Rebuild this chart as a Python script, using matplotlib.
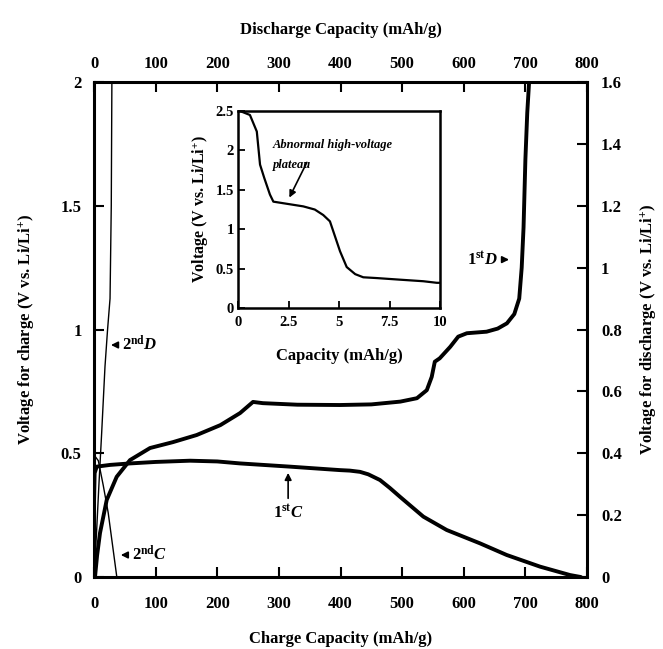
import numpy as np
import matplotlib
matplotlib.use("Agg")
import matplotlib.pyplot as plt

plt.rcParams['font.family'] = ['Liberation Serif', 'DejaVu Serif']
plt.rcParams['font.weight'] = 'bold'
plt.rcParams['axes.labelweight'] = 'bold'
plt.rcParams['mathtext.fontset'] = 'custom'
plt.rcParams['mathtext.rm'] = 'Liberation Serif:bold'
plt.rcParams['mathtext.bf'] = 'Liberation Serif:bold'
plt.rcParams['mathtext.it'] = 'Liberation Serif:italic:bold'

# 1st discharge (top / right axes)
d1_cap = [1.6, 5, 9.7, 20.6, 36.8, 58.4, 90.9, 128, 166.6, 205, 237, 258, 274, 330, 399,
          450, 497, 524, 540, 548, 553, 561, 578, 591, 605, 637, 655, 670, 682, 690,
          694, 697, 700, 703, 706]
d1_v = [0, 0.07, 0.142, 0.249, 0.324, 0.378, 0.417, 0.436, 0.459, 0.491, 0.530, 0.566, 0.562,
        0.557, 0.556, 0.558, 0.567, 0.578, 0.604, 0.647, 0.696, 0.707, 0.744, 0.777, 0.788,
        0.793, 0.803, 0.82, 0.85, 0.90, 1.0, 1.13, 1.35, 1.50, 1.6]

# 2nd discharge
d2_cap = [0, 4, 8, 12.4, 17.8, 22, 26, 28, 29]
d2_v = [0, 0.14, 0.3, 0.465, 0.68, 0.8, 0.9, 1.2, 1.6]

# 1st charge (bottom / left axes)
c1_cap = [0, 1, 4.4, 26, 58.4, 100, 155.8, 200, 237, 318, 399, 415, 431.6, 445, 464, 480,
          496.6, 515, 534.4, 572.3, 626.4, 669.7, 723.7, 772.4, 790]
c1_v = [0.30, 0.42, 0.446, 0.453, 0.459, 0.465, 0.470, 0.467, 0.459, 0.446, 0.432, 0.430,
        0.425, 0.415, 0.392, 0.360, 0.324, 0.285, 0.244, 0.190, 0.136, 0.089, 0.042, 0.008, 0.0]

# 2nd charge
c2_cap = [1, 7, 15, 23, 30, 37]
c2_v = [0.49, 0.47, 0.37, 0.26, 0.13, 0.0]

# inset: first few mAh/g of the 1st discharge
ins_cap = [0, 0.1, 0.59, 0.93, 1.09, 1.3, 1.58, 1.75, 2.24, 3.23, 3.8, 4.22, 4.55, 5.05,
           5.38, 5.8, 6.2, 6.87, 8.0, 9.17, 9.84, 10]
ins_v = [2.5, 2.5, 2.45, 2.24, 1.82, 1.65, 1.44, 1.35, 1.33, 1.29, 1.25, 1.18, 1.10, 0.72,
         0.52, 0.43, 0.39, 0.38, 0.36, 0.34, 0.32, 0.32]

cap_ticks = [0, 100, 200, 300, 400, 500, 600, 700, 800]
charge_ticks = [0, 0.5, 1, 1.5, 2]
charge_labels = ['0', '0.5', '1', '1.5', '2']
dis_ticks = [0, 0.2, 0.4, 0.6, 0.8, 1.0, 1.2, 1.4, 1.6]
dis_labels = ['0', '0.2', '0.4', '0.6', '0.8', '1', '1.2', '1.4', '1.6']
ins_xticks = [0, 2.5, 5, 7.5, 10]
ins_xlabels = ['0', '2.5', '5', '7.5', '10']
ins_yticks = [0, 0.5, 1, 1.5, 2, 2.5]
ins_ylabels = ['0', '0.5', '1', '1.5', '2', '2.5']

arrow = dict(arrowstyle='-|>', color='black', lw=1.2, mutation_scale=10)

fig = plt.figure(figsize=(6.63, 6.49), dpi=100)
pos = [0.1418, 0.1109, 0.7436, 0.7627]

# charge axes
ax = fig.add_axes(pos)
ax.plot(c1_cap, c1_v, color='black', lw=2.8, solid_capstyle='round', solid_joinstyle='round')
ax.plot(c2_cap, c2_v, color='black', lw=1.0)
ax.set_xlim(0, 800)
ax.set_ylim(0, 2)
ax.set_xticks(cap_ticks)
ax.set_xticklabels([str(t) for t in cap_ticks])
ax.set_yticks(charge_ticks)
ax.set_yticklabels(charge_labels)
ax.tick_params(direction='in', length=7, width=1.5, labelsize=12, top=False, right=False)
ax.tick_params(axis='x', pad=14)
ax.tick_params(axis='y', pad=9)
for s in ax.spines.values():
    s.set_linewidth(2.2)
ax.set_xlabel('Charge Capacity (mAh/g)', fontsize=12, labelpad=13)
ax.set_ylabel('Voltage for charge (V vs. Li/Li$^{+}$)', fontsize=12, labelpad=17)

ax.annotate(r'$\mathrm{1}^{\mathrm{st}}\mathit{C}$', xy=(315, 0.432), xytext=(315, 0.26),
            ha='center', va='center', fontsize=12, arrowprops=arrow)
ax.annotate(r'$\mathrm{2}^{\mathrm{nd}}\mathit{C}$', xy=(39, 0.089), xytext=(61, 0.089),
            ha='left', va='center', fontsize=12, arrowprops=arrow)

# discharge axes, top and right
ax2 = fig.add_axes(pos, frameon=False)
ax2.plot(d1_cap, d1_v, color='black', lw=2.8, solid_capstyle='round', solid_joinstyle='round')
ax2.plot(d2_cap, d2_v, color='black', lw=1.0)
ax2.set_xlim(0, 800)
ax2.set_ylim(0, 1.6)
ax2.xaxis.tick_top()
ax2.yaxis.tick_right()
ax2.xaxis.set_label_position('top')
ax2.yaxis.set_label_position('right')
ax2.set_xticks(cap_ticks)
ax2.set_xticklabels([str(t) for t in cap_ticks])
ax2.set_yticks(dis_ticks)
ax2.set_yticklabels(dis_labels)
ax2.tick_params(direction='in', length=7, width=1.5, labelsize=12)
ax2.tick_params(axis='x', pad=7)
ax2.tick_params(axis='y', pad=10)
ax2.set_xlabel('Discharge Capacity (mAh/g)', fontsize=12, labelpad=16)
ax2.set_ylabel('Voltage for discharge (V vs. Li/Li$^{+}$)', fontsize=12, labelpad=12,
               rotation=90)

ax2.annotate(r'$\mathrm{2}^{\mathrm{nd}}\mathit{D}$', xy=(23, 0.75), xytext=(45, 0.75),
             ha='left', va='center', fontsize=12, arrowprops=arrow)
ax2.annotate(r'$\mathrm{1}^{\mathrm{st}}\mathit{D}$', xy=(678, 1.026), xytext=(655, 1.026),
             ha='right', va='center', fontsize=12, arrowprops=arrow)

# inset
ins = fig.add_axes([0.359, 0.5254, 0.3047, 0.3035])
ins.plot(ins_cap, ins_v, color='black', lw=1.6, solid_joinstyle='round')
ins.set_xlim(0, 10)
ins.set_ylim(0, 2.5)
ins.set_xticks(ins_xticks)
ins.set_xticklabels(ins_xlabels)
ins.set_yticks(ins_yticks)
ins.set_yticklabels(ins_ylabels)
ins.tick_params(direction='in', length=5, width=1.3, labelsize=10.5)
ins.tick_params(axis='x', pad=6)
ins.tick_params(axis='y', pad=3)
for s in ins.spines.values():
    s.set_linewidth(1.8)
ins.set_xlabel('Capacity (mAh/g)', fontsize=12)
ins.set_ylabel('Voltage (V vs. Li/Li$^{+}$)', fontsize=11.5)
ins.xaxis.set_label_coords(0.5, -0.205)
ins.yaxis.set_label_coords(-0.135, 0.5)
ins.text(1.73, 2.07, 'Abnormal high-voltage', fontsize=9, style='italic',
         weight='bold', ha='left', va='center')
ins.text(1.73, 1.81, 'plateau', fontsize=9, style='italic',
         weight='bold', ha='left', va='center')
ins.annotate('', xy=(2.48, 1.37), xytext=(3.47, 1.88), arrowprops=arrow)

fig.savefig('out.png', dpi=100)
